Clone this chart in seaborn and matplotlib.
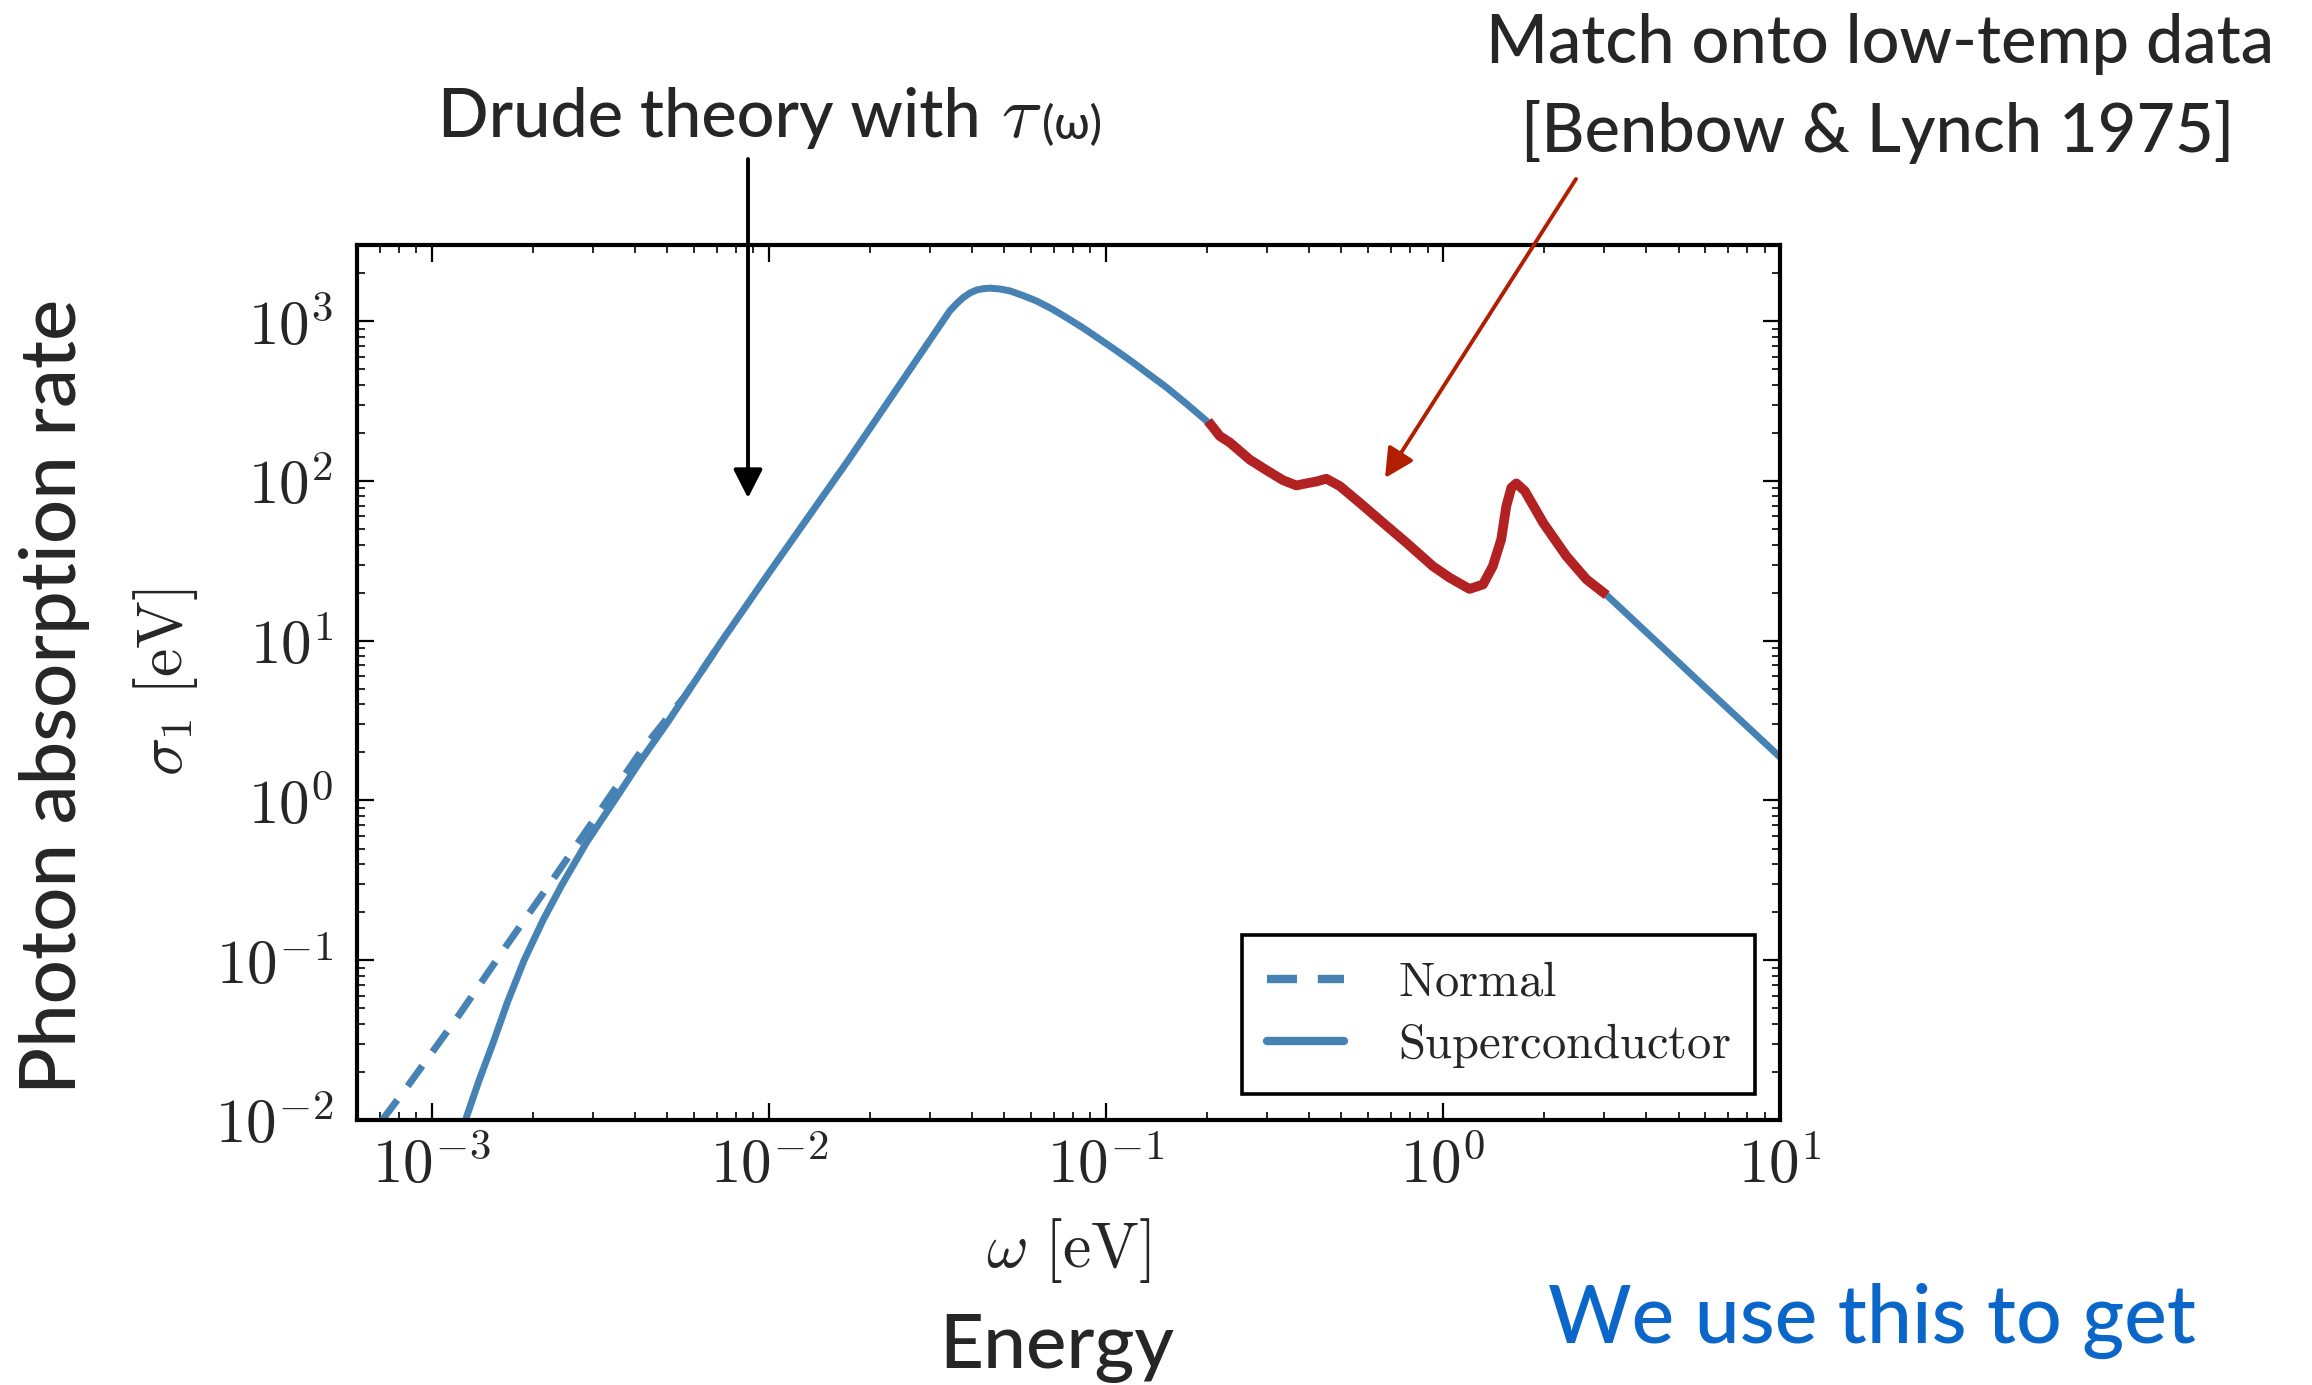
import numpy as np
import pandas as pd
import matplotlib
matplotlib.use("Agg")
import matplotlib.pyplot as plt
import seaborn as sns
from matplotlib.patches import FancyArrowPatch
from matplotlib.ticker import FuncFormatter, LogLocator, NullFormatter, FixedLocator

# --- data -------------------------------------------------------------------
# Drude theory with tau(omega), superconducting state, up to the matching point
omega_drude_low = [1.259e-3, 1.380e-3, 1.514e-3, 1.679e-3, 1.879e-3, 2.138e-3,
                   2.427e-3, 2.884e-3, 3.483e-3, 4.169e-3, 5.01e-3, 7.26e-3,
                   1.0e-2, 1.742e-2, 2.449e-2, 3.443e-2, 3.606e-2, 3.776e-2,
                   3.954e-2, 4.140e-2, 4.335e-2, 4.529e-2, 4.842e-2, 5.188e-2,
                   5.689e-2, 6.223e-2, 6.918e-2, 7.638e-2, 8.570e-2, 9.594e-2,
                   0.1076, 0.1205, 0.1349, 0.1514, 0.1738, 0.1991]
sigma_drude_low = [0.0100, 0.0176, 0.0297, 0.0550, 0.100, 0.178,
                   0.294, 0.550, 1.00, 1.778, 3.09, 10.0,
                   26.5, 140.0, 403.0, 1161.0, 1288.0, 1409.0,
                   1503.0, 1570.0, 1600.0, 1611.0, 1592.0, 1549.0,
                   1445.0, 1340.0, 1194.0, 1054.0, 906.0, 771.0,
                   653.0, 551.0, 461.0, 385.0, 303.0, 237.0]

# Drude theory above the matching region
omega_drude_high = [3.06, 4.43, 6.0, 10.0]
sigma_drude_high = [19.3, 9.3, 5.1, 1.87]

# Normal state (coincides with the superconductor above a few meV)
omega_normal = [7.13e-4, 8.43e-4, 1.20e-3, 1.675e-3, 2.339e-3, 3.327e-3,
                4.207e-3, 5.62e-3, 7.26e-3]
sigma_normal = [0.0100, 0.0160, 0.0449, 0.1256, 0.343, 1.014,
                2.08, 4.47, 10.0]

# Low-temperature data [Benbow & Lynch 1975]
omega_bl = [0.2009, 0.2178, 0.2333, 0.2673, 0.2992, 0.3357, 0.3673, 0.3936,
            0.4217, 0.4508, 0.4943, 0.5662, 0.6637, 0.7798, 0.9333, 1.047,
            1.199, 1.315, 1.406, 1.489, 1.542, 1.596, 1.652, 1.750, 1.982,
            2.323, 2.667, 3.06]
sigma_bl = [237.0, 191.0, 174.0, 136.0, 117.0, 101.0, 93.8, 96.6,
            99.3, 103.3, 92.9, 73.1, 54.8, 41.0, 29.3, 24.8,
            21.1, 22.5, 29.3, 43.1, 69.7, 90.8, 96.6, 86.5, 54.8,
            33.9, 24.2, 19.3]

x_ticks = [1e-3, 1e-2, 1e-1, 1e0, 1e1]
y_ticks = [1e-2, 1e-1, 1e0, 1e1, 1e2, 1e3]
x_range = (6.0e-4, 10.0)
y_range = (1.0e-2, 3.0e3)

BLUE = "#4682b4"
RED = "#b22222"
ARROW_RED = "#b21e00"
TEXT_BLUE = "#0a66c8"
LW_BLUE = 5.0
LW_RED = 7.0

# --- style ------------------------------------------------------------------
sns.set_style("ticks")
plt.rcParams["font.family"] = ["Lato", "DejaVu Sans"]
plt.rcParams["mathtext.fontset"] = "cm"

W, H = 2312, 1385
fig = plt.figure(figsize=(W / 100, H / 100), dpi=100)
fig.patch.set_facecolor("white")

# axes box in pixel coordinates (left, top, right, bottom)
L, T, R, B = 357, 245, 1780, 1120
ax = fig.add_axes([L / W, 1 - B / H, (R - L) / W, (B - T) / H])
ax.set_xscale("log")
ax.set_yscale("log")

df_normal = pd.DataFrame({"omega": omega_normal, "sigma": sigma_normal})
df_low = pd.DataFrame({"omega": omega_drude_low, "sigma": sigma_drude_low})
df_high = pd.DataFrame({"omega": omega_drude_high, "sigma": sigma_drude_high})
df_bl = pd.DataFrame({"omega": omega_bl, "sigma": sigma_bl})

sns.lineplot(data=df_normal, x="omega", y="sigma", ax=ax, color=BLUE,
             linewidth=LW_BLUE, linestyle=(0, (3.6, 2.5)),
             label=r"$\mathrm{Normal}$", estimator=None)
sns.lineplot(data=df_low, x="omega", y="sigma", ax=ax, color=BLUE,
             linewidth=LW_BLUE, label=r"$\mathrm{Superconductor}$",
             estimator=None)
sns.lineplot(data=df_high, x="omega", y="sigma", ax=ax, color=BLUE,
             linewidth=LW_BLUE, legend=False, estimator=None)
sns.lineplot(data=df_bl, x="omega", y="sigma", ax=ax, color=RED,
             linewidth=LW_RED, legend=False, estimator=None,
             solid_capstyle="butt")

ax.set_xlim(*x_range)
ax.set_ylim(*y_range)

dec_fmt = FuncFormatter(lambda v, _: r"$10^{%d}$" % int(round(np.log10(v))))
for axis, ticks in ((ax.xaxis, x_ticks), (ax.yaxis, y_ticks)):
    axis.set_major_locator(FixedLocator(ticks))
    axis.set_major_formatter(dec_fmt)
    axis.set_minor_locator(LogLocator(base=10, subs=np.arange(2, 10), numticks=50))
    axis.set_minor_formatter(NullFormatter())

ax.tick_params(which="both", direction="in", top=True, right=True, color="black")
ax.tick_params(which="major", length=12.5, width=1.6, labelsize=44)
ax.tick_params(which="minor", length=5.5, width=1.2)
ax.tick_params(axis="x", which="major", pad=12)
ax.tick_params(axis="y", which="major", pad=17)
for s in ax.spines.values():
    s.set_linewidth(3.0)
    s.set_color("black")

ax.set_xlabel(r"$\omega\ [\mathrm{eV}]$", fontsize=46)
ax.set_ylabel(r"$\sigma_1\ [\mathrm{eV}]$", fontsize=46)
ax.xaxis.set_label_coords(0.5, -0.11)
ax.yaxis.set_label_coords(-0.11, 0.5)

handles, labels = ax.get_legend_handles_labels()
leg = ax.legend(handles, labels, loc="lower right",
                bbox_to_anchor=(0.9824, 0.0297), borderaxespad=0,
                fontsize=35, frameon=True, fancybox=False, framealpha=1,
                edgecolor="black", borderpad=0.5, labelspacing=0.35,
                handlelength=1.6, handletextpad=1.1)
leg.get_frame().set_linewidth(2.6)
for h in leg.legend_handles:
    h.set_linewidth(6.0)


def fx(x):
    return x / W


def fy(y):
    return 1 - y / H


# --- annotations --------------------------------------------------------------
TXT = dict(fontweight="medium")
fig.text(fx(55), fy(696), "Photon absorption rate", fontsize=56,
         rotation=90, ha="center", va="center", **TXT)
fig.text(fx(1057), fy(1368), "Energy", fontsize=55, ha="center",
         va="baseline", **TXT)
fig.text(fx(1548), fy(1343), "We use this to get", fontsize=58,
         color=TEXT_BLUE, ha="left", va="baseline", **TXT)

fig.text(fx(1880), fy(63), "Match onto low-temp data", fontsize=48,
         ha="center", va="baseline", **TXT)
fig.text(fx(1878), fy(152), "[Benbow & Lynch 1975]", fontsize=48,
         ha="center", va="baseline", **TXT)

t1 = fig.text(fx(438), fy(137), "Drude theory with", fontsize=48,
              ha="left", va="baseline", **TXT)
fig.canvas.draw()
x_end = t1.get_window_extent().x1
t2 = fig.text(fx(x_end + 20), fy(137), r"$\tau$", fontsize=54,
              ha="left", va="baseline")
fig.canvas.draw()
x_end = t2.get_window_extent().x1
fig.text(fx(x_end + 1), fy(139), "(ω)", fontsize=33, ha="left",
         va="baseline", **TXT)

for (xa, ya), (xb, yb), col in (((748, 159), (748, 498), "black"),
                                ((1576, 179), (1385, 478), ARROW_RED)):
    arr = FancyArrowPatch((fx(xa), fy(ya)), (fx(xb), fy(yb)),
                          transform=fig.transFigure,
                          arrowstyle="-|>,head_length=0.55,head_width=0.28",
                          mutation_scale=32, lw=2.8, color=col,
                          shrinkA=0, shrinkB=0, zorder=10)
    fig.add_artist(arr)

fig.savefig("out.png", dpi=100, facecolor="white")
